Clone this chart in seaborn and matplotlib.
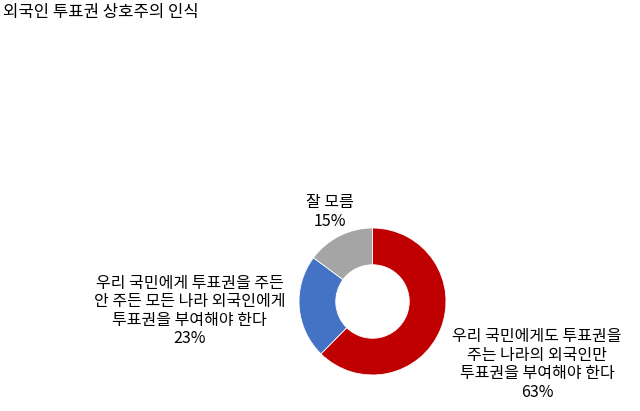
import matplotlib

matplotlib.use("Agg")
import matplotlib.pyplot as plt
import seaborn as sns

sns.set_theme(style="white")
plt.rcParams["font.family"] = ["Noto Sans CJK KR", "DejaVu Sans"]

# data
title = "외국인 투표권 상호주의 인식"
labels = [
    "우리 국민에게도 투표권을\n주는 나라의 외국인만\n투표권을 부여해야 한다",
    "우리 국민에게 투표권을 주든\n안 주든 모든 나라 외국인에게\n투표권을 부여해야 한다",
    "잘 모름",
]
shares = [63, 23, 15]
colors = ["#C00000", "#4472C4", "#A5A5A5"]

# label anchor points (data units, pie radius = 1)
label_pos = [(2.24, -0.86), (-2.49, -0.13), (-0.58, 1.22)]

fig = plt.figure(figsize=(6.4, 4.11), dpi=100)
fig.patch.set_facecolor("white")

# axes sized so the donut sits where it does in the reference
w, h = 147 / 640, 147 / 411
cx, cy = 372.5 / 640, (411 - 301.5) / 411
ax = fig.add_axes([cx - w / 2, cy - h / 2, w, h])

wedges, _ = ax.pie(
    shares,
    colors=colors,
    startangle=90,
    counterclock=False,
    radius=1,
    wedgeprops=dict(width=0.5, edgecolor="white", linewidth=0.6),
)
ax.set_xlim(-1, 1)
ax.set_ylim(-1, 1)
ax.set_aspect("equal")
ax.axis("off")

for lab, val, (x, y) in zip(labels, shares, label_pos):
    ax.text(
        x,
        y,
        f"{lab}\n{val}%",
        ha="center",
        va="center",
        fontsize=11.5,
        color="#000000",
        linespacing=1.12,
        clip_on=False,
    )

fig.text(3 / 640, 1 - 13 / 411, title, ha="left", va="center", fontsize=12, color="#000000")

fig.savefig("out.png", dpi=100, facecolor="white")
